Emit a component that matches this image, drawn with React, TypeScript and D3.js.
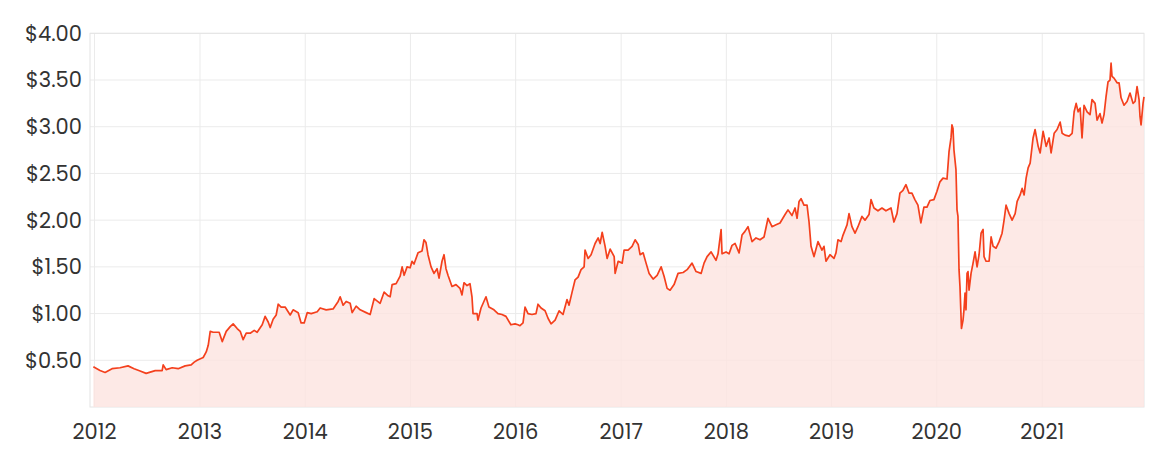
import React from "react";
import * as d3 from "d3";

// decimal years (date of observation)
const years: number[] = [
  2011.989, 2012.052, 2012.1, 2012.166, 2012.242, 2012.318, 2012.375, 2012.432, 2012.489, 2012.575,
  2012.641, 2012.651, 2012.679, 2012.736, 2012.793, 2012.859, 2012.916, 2012.945, 2012.973,
  2013.03, 2013.059, 2013.078, 2013.097, 2013.125, 2013.182, 2013.211, 2013.249, 2013.287, 2013.315,
  2013.353, 2013.382, 2013.41, 2013.439, 2013.477, 2013.515, 2013.543, 2013.591, 2013.619, 2013.648,
  2013.667, 2013.695, 2013.724, 2013.743, 2013.771, 2013.809, 2013.857, 2013.885, 2013.933, 2013.961, 2013.99,
  2014.019, 2014.057, 2014.114, 2014.142, 2014.199, 2014.265, 2014.313, 2014.332, 2014.36, 2014.389,
  2014.427, 2014.446, 2014.484, 2014.522, 2014.579, 2014.617, 2014.655, 2014.712, 2014.75, 2014.788,
  2014.807, 2014.826, 2014.864, 2014.902, 2014.921, 2014.94, 2014.968, 2014.997,
  2015.015, 2015.034, 2015.072, 2015.11, 2015.129, 2015.148, 2015.167, 2015.196, 2015.224, 2015.253,
  2015.272, 2015.3, 2015.319, 2015.338, 2015.357, 2015.395, 2015.433, 2015.471, 2015.49, 2015.509,
  2015.538, 2015.566, 2015.585, 2015.595, 2015.633, 2015.642, 2015.671, 2015.718, 2015.746, 2015.794,
  2015.832, 2015.87, 2015.908, 2015.955, 2015.994,
  2016.022, 2016.041, 2016.07, 2016.089, 2016.117, 2016.155, 2016.193, 2016.212, 2016.241, 2016.279,
  2016.307, 2016.336, 2016.374, 2016.412, 2016.449, 2016.487, 2016.506, 2016.535, 2016.563, 2016.592,
  2016.62, 2016.649, 2016.658, 2016.687, 2016.715, 2016.753, 2016.782, 2016.801, 2016.82, 2016.848,
  2016.867, 2016.896, 2016.934, 2016.943, 2016.972,
  2017.01, 2017.028, 2017.066, 2017.104, 2017.133, 2017.162, 2017.18, 2017.209, 2017.237, 2017.266,
  2017.304, 2017.342, 2017.38, 2017.408, 2017.437, 2017.465, 2017.503, 2017.541, 2017.589, 2017.627,
  2017.674, 2017.712, 2017.76, 2017.788, 2017.817, 2017.855, 2017.902, 2017.921, 2017.95, 2017.959, 2017.997,
  2018.026, 2018.054, 2018.083, 2018.121, 2018.149, 2018.177, 2018.206, 2018.244, 2018.282, 2018.32,
  2018.358, 2018.396, 2018.434, 2018.472, 2018.51, 2018.558, 2018.586, 2018.624, 2018.653, 2018.672,
  2018.691, 2018.71, 2018.738, 2018.767, 2018.786, 2018.805, 2018.833, 2018.871, 2018.909, 2018.928,
  2018.947, 2018.985,
  2019.023, 2019.042, 2019.061, 2019.09, 2019.109, 2019.147, 2019.166, 2019.194, 2019.223, 2019.251,
  2019.289, 2019.318, 2019.356, 2019.375, 2019.403, 2019.441, 2019.479, 2019.517, 2019.565, 2019.593,
  2019.622, 2019.65, 2019.679, 2019.707, 2019.736, 2019.764, 2019.792, 2019.821, 2019.849, 2019.878,
  2019.907, 2019.935, 2019.973,
  2020.002, 2020.03, 2020.059, 2020.097, 2020.116, 2020.135, 2020.144, 2020.154, 2020.163, 2020.182,
  2020.192, 2020.201, 2020.211, 2020.22, 2020.23, 2020.234, 2020.249, 2020.258, 2020.268, 2020.277,
  2020.287, 2020.296, 2020.306, 2020.325, 2020.344, 2020.363, 2020.382, 2020.401, 2020.42, 2020.439,
  2020.448, 2020.467, 2020.496, 2020.515, 2020.534, 2020.562, 2020.591, 2020.619, 2020.638, 2020.657,
  2020.686, 2020.714, 2020.743, 2020.762, 2020.79, 2020.809, 2020.828, 2020.847, 2020.866, 2020.885,
  2020.913, 2020.932, 2020.961, 2020.98,
  2021.008, 2021.037, 2021.065, 2021.084, 2021.113, 2021.141, 2021.17, 2021.189, 2021.217, 2021.255,
  2021.284, 2021.303, 2021.322, 2021.341, 2021.36, 2021.378, 2021.397, 2021.426, 2021.454, 2021.473,
  2021.502, 2021.521, 2021.549, 2021.568, 2021.587, 2021.606, 2021.625, 2021.644, 2021.654, 2021.663,
  2021.682, 2021.711, 2021.73, 2021.749, 2021.777, 2021.806, 2021.834, 2021.863, 2021.882, 2021.901,
  2021.92, 2021.929, 2021.939, 2021.958, 2021.967,
];

const prices: number[] = [
  0.43, 0.39, 0.37, 0.41, 0.42, 0.44, 0.41, 0.385, 0.36, 0.39,
  0.39, 0.45, 0.40, 0.42, 0.41, 0.44, 0.45, 0.48, 0.50,
  0.53, 0.59, 0.66, 0.81, 0.80, 0.80, 0.70, 0.81, 0.86, 0.89,
  0.84, 0.81, 0.72, 0.79, 0.79, 0.82, 0.80, 0.88, 0.97, 0.91,
  0.85, 0.94, 0.985, 1.10, 1.07, 1.07, 0.985, 1.04, 1.01, 0.90, 0.90,
  1.01, 1.00, 1.02, 1.06, 1.04, 1.05, 1.13, 1.18, 1.09, 1.13,
  1.11, 1.01, 1.08, 1.04, 1.01, 0.99, 1.16, 1.11, 1.23, 1.19,
  1.18, 1.31, 1.32, 1.40, 1.50, 1.41, 1.50, 1.49,
  1.56, 1.53, 1.65, 1.67, 1.79, 1.76, 1.63, 1.50, 1.43, 1.48,
  1.38, 1.56, 1.63, 1.48, 1.41, 1.29, 1.31, 1.27, 1.20, 1.33,
  1.30, 1.32, 1.18, 1.00, 1.00, 0.93, 1.06, 1.18, 1.07, 1.04,
  1.00, 0.99, 0.97, 0.88, 0.89,
  0.88, 0.87, 0.90, 1.07, 1.00, 0.99, 1.00, 1.10, 1.06, 1.03,
  0.95, 0.89, 0.93, 1.03, 0.99, 1.15, 1.09, 1.23, 1.36, 1.39,
  1.47, 1.50, 1.68, 1.59, 1.63, 1.75, 1.81, 1.75, 1.87, 1.72,
  1.59, 1.69, 1.61, 1.43, 1.56,
  1.54, 1.68, 1.68, 1.72, 1.79, 1.74, 1.63, 1.65, 1.54, 1.43,
  1.37, 1.41, 1.50, 1.40, 1.27, 1.25, 1.31, 1.43, 1.44, 1.47,
  1.54, 1.45, 1.43, 1.54, 1.61, 1.66, 1.57, 1.64, 1.90, 1.64, 1.66,
  1.64, 1.73, 1.75, 1.65, 1.84, 1.88, 1.93, 1.77, 1.81, 1.79,
  1.82, 2.02, 1.93, 1.95, 1.97, 2.06, 2.11, 2.05, 2.13, 2.02,
  2.20, 2.23, 2.16, 2.16, 1.98, 1.72, 1.61, 1.77, 1.68, 1.72,
  1.56, 1.63,
  1.59, 1.65, 1.79, 1.77, 1.84, 1.95, 2.07, 1.93, 1.86, 1.93,
  2.04, 2.00, 2.06, 2.22, 2.13, 2.10, 2.13, 2.10, 2.13, 1.98,
  2.07, 2.29, 2.32, 2.38, 2.29, 2.29, 2.22, 2.16, 1.97, 2.14,
  2.14, 2.21, 2.22,
  2.31, 2.41, 2.45, 2.44, 2.73, 2.88, 3.02, 2.98, 2.75, 2.54,
  2.11, 2.04, 1.47, 1.29, 0.97, 0.84, 0.93, 1.04, 1.22, 1.04,
  1.43, 1.45, 1.25, 1.43, 1.54, 1.66, 1.50, 1.63, 1.86, 1.90,
  1.61, 1.56, 1.56, 1.82, 1.72, 1.70, 1.77, 1.86, 2.00, 2.16,
  2.07, 2.00, 2.07, 2.20, 2.27, 2.34, 2.27, 2.45, 2.56, 2.61,
  2.88, 2.97, 2.79, 2.72,
  2.95, 2.79, 2.88, 2.72, 2.93, 2.97, 3.05, 2.93, 2.91, 2.90,
  2.93, 3.16, 3.25, 3.16, 3.20, 2.88, 3.23, 3.16, 3.13, 3.29,
  3.25, 3.07, 3.14, 3.04, 3.13, 3.32, 3.48, 3.50, 3.68, 3.54,
  3.52, 3.47, 3.47, 3.31, 3.23, 3.27, 3.36, 3.25, 3.27, 3.43,
  3.29, 3.11, 3.02, 3.25, 3.32,
];

const yTicks: number[] = [0.5, 1, 1.5, 2, 2.5, 3, 3.5, 4];
const xTickYears: number[] = [2012, 2013, 2014, 2015, 2016, 2017, 2018, 2019, 2020, 2021];

function toDate(y: number): Date {
  const yr = Math.floor(y);
  const start = new Date(yr, 0, 1).getTime();
  const end = new Date(yr + 1, 0, 1).getTime();
  return new Date(start + (y - yr) * (end - start));
}

export default function App() {
  const W = 1165;
  const H = 455;
  const left = 90;
  const right = 1144;
  const top = 33.3;
  const bottom = 407;

  const data = years.map((y, i) => ({ d: toDate(y), v: prices[i] }));

  const x = d3
    .scaleTime()
    .domain([toDate(2011.957), toDate(2021.967)])
    .range([left, right]);
  const y = d3.scaleLinear().domain([0, 4]).range([bottom, top]);

  const line = d3
    .line<{ d: Date; v: number }>()
    .x((p) => x(p.d))
    .y((p) => y(p.v));
  const area = d3
    .area<{ d: Date; v: number }>()
    .x((p) => x(p.d))
    .y0(y(0))
    .y1((p) => y(p.v));

  const font = "Poppins, 'Open Sans', sans-serif";

  return (
    <svg
      width={W}
      height={H}
      style={{ position: "absolute", left: 0, top: 0, background: "#fff" }}
    >
      {/* grid */}
      {yTicks.map((t) => (
        <line key={"gy" + t} x1={left} x2={right} y1={y(t)} y2={y(t)} stroke="#ebebeb" strokeWidth={1} />
      ))}
      {xTickYears.map((t) => (
        <line
          key={"gx" + t}
          x1={x(new Date(t, 0, 1))}
          x2={x(new Date(t, 0, 1))}
          y1={top}
          y2={bottom}
          stroke="#ebebeb"
          strokeWidth={1}
        />
      ))}
      {/* plot border */}
      <rect x={left} y={top} width={right - left} height={bottom - top} fill="none" stroke="#e4e4e4" strokeWidth={1} />

      <path d={area(data) ?? ""} fill="#fde3e0" fillOpacity={0.8} />
      <path d={line(data) ?? ""} fill="none" stroke="#f4401d" strokeWidth={1.7} strokeLinejoin="round" />

      {/* y labels */}
      {yTicks.map((t) => (
        <text
          key={"ly" + t}
          x={82}
          y={y(t)}
          dy="0.35em"
          textAnchor="end"
          fontFamily={font}
          fontSize={21}
          fill="#333"
        >
          {d3.format("$.2f")(t)}
        </text>
      ))}
      {/* x labels */}
      {xTickYears.map((t) => (
        <text
          key={"lx" + t}
          x={x(new Date(t, 0, 1))}
          y={439}
          textAnchor="middle"
          fontFamily={font}
          fontSize={21}
          fill="#333"
        >
          {t}
        </text>
      ))}
    </svg>
  );
}
